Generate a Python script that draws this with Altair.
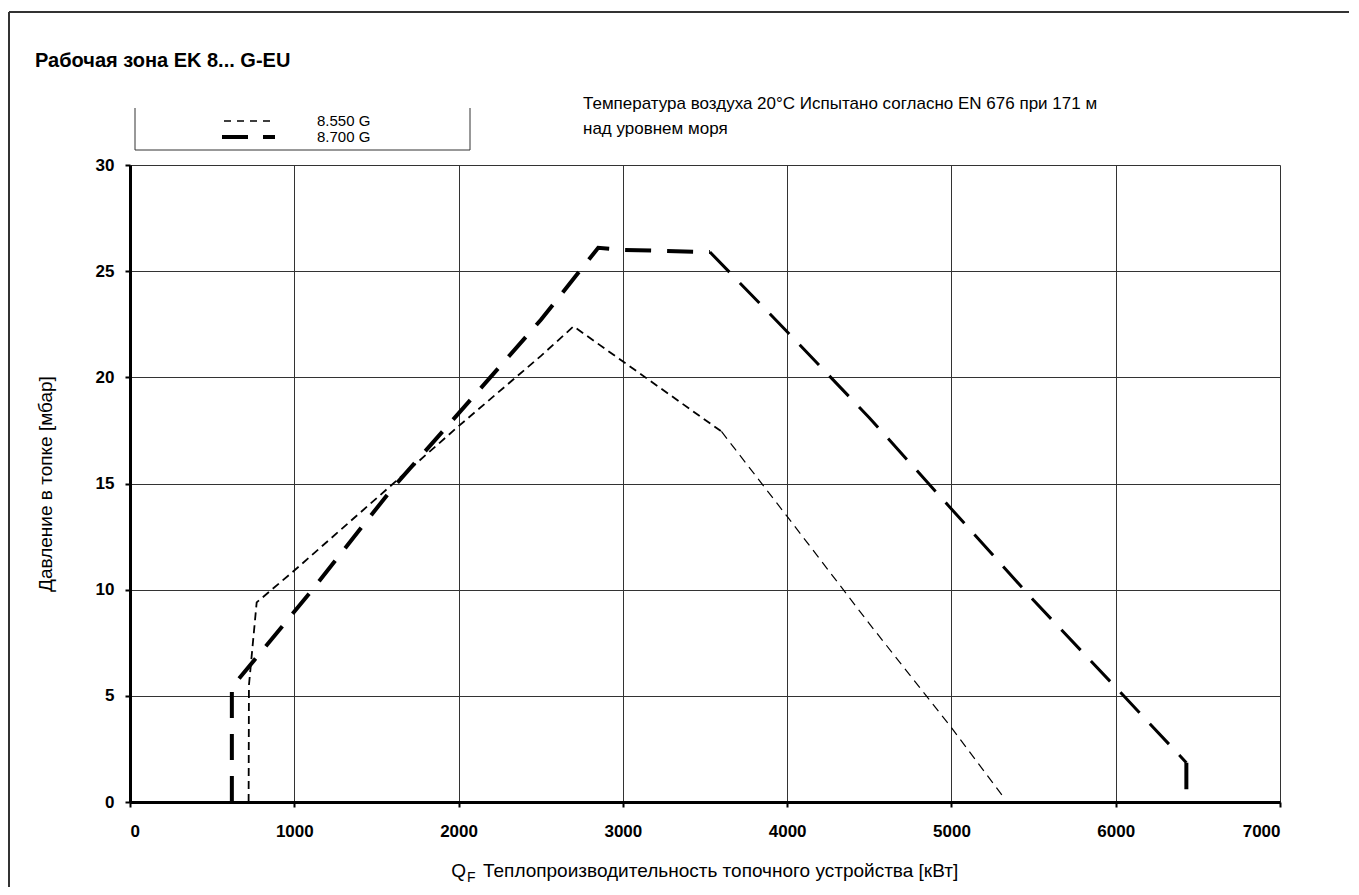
import altair as alt
import pandas as pd

FONT = "Liberation Sans"

# ---- data ----
x_ticks = [0, 1000, 2000, 3000, 4000, 5000, 6000, 7000]
y_ticks = [0, 5, 10, 15, 20, 25, 30]

s1_name = "8.550 G"
s1_x = [722, 724, 771, 1000, 1500, 2000, 2500, 2700, 3600, 4000, 4500, 5000, 5320]
s1_y = [0, 5.5, 9.4, 10.9, 14.3, 17.7, 21.0, 22.4, 17.45, 13.45, 8.4, 3.5, 0.2]

s2_name = "8.700 G"
s2_x = [620, 620, 1100, 1600, 2000, 2500, 2850, 3000, 3530, 4000, 4500, 5000, 5500, 6000, 6430, 6430]
s2_y = [0, 5.4, 9.9, 14.8, 18.3, 22.7, 26.1, 26.0, 25.9, 22.15, 18.1, 13.8, 9.5, 5.4, 1.85, 0.6]

title_text = "Рабочая зона EK 8... G-EU"
note_lines = ["Температура воздуха 20°C Испытано согласно EN 676 при 171 м",
              "над уровнем моря"]
x_title_q = "Q"
x_title_sub = "F"
x_title_rest = "Теплопроизводительность топочного устройства [кВт]"
y_title = "Давление в топке [мбар]"

W, H = 1150, 637


def frame(xs, ys):
    return pd.DataFrame({"x": xs, "y": ys, "i": list(range(len(xs)))})


d1 = frame(s1_x, s1_y)
d2 = frame(s2_x, s2_y)
k1 = s1_x.index(3600)
k2 = s2_x.index(3530)

X = alt.X("x:Q", scale=alt.Scale(domain=[0, 7000], nice=False, zero=False),
          axis=alt.Axis(values=x_ticks, format="d", grid=True, gridColor="#333",
                        gridWidth=1, domainColor="black", domainWidth=3,
                        tickColor="black", tickSize=5, tickWidth=2,
                        labelFont=FONT, labelFontSize=17, labelFontWeight="bold",
                        labelColor="black", labelPadding=16, title=None))
Y = alt.Y("y:Q", scale=alt.Scale(domain=[0, 30], nice=False),
          axis=alt.Axis(values=y_ticks, grid=True, gridColor="#333", gridWidth=1,
                        domainColor="black", domainWidth=3, tickColor="black",
                        tickSize=5, tickWidth=2, labelFont=FONT, labelFontSize=17,
                        labelFontWeight="bold", labelColor="black", labelPadding=11,
                        title=y_title, titleFont=FONT, titleFontSize=19,
                        titleFontWeight="normal", titleColor="black",
                        titleX=-85, titleY=H / 2, titleAngle=-90,
                        titleAlign="center", titleBaseline="middle"))
O = alt.Order("i:Q")


def line(df, width, dash=None):
    kw = dict(color="black", strokeWidth=width, clip=False, strokeCap="butt")
    if dash:
        kw["strokeDash"] = dash
    return alt.Chart(df).mark_line(**kw).encode(x=X, y=Y, order=O)


layers = [
    line(d1.iloc[:k1 + 1], 1.8, [8, 5]),
    line(d1.iloc[k1:], 1.2, [9, 6]),
    line(d2.iloc[:k2 + 1], 4, [26, 16]),
    line(d2.iloc[k2:len(s2_x) - 1], 3, [28, 15]),
    line(d2.iloc[len(s2_x) - 2:], 4),
]


def txt(s, x, y, size, weight="normal", align="left", angle=0, baseline="alphabetic"):
    return alt.Chart(pd.DataFrame({"t": [s]})).mark_text(
        font=FONT, fontSize=size, fontWeight=weight, align=align, baseline=baseline,
        angle=angle, color="black").encode(text="t:N", x=alt.value(x), y=alt.value(y))


def rule(x, y, x2=None, y2=None, width=1, color="#333", dash=None):
    kw = dict(color=color, strokeWidth=width, strokeCap="butt")
    if dash:
        kw["strokeDash"] = dash
    enc = dict(x=alt.value(x), y=alt.value(y))
    if x2 is not None:
        enc["x2"] = alt.value(x2)
    if y2 is not None:
        enc["y2"] = alt.value(y2)
    return alt.Chart(pd.DataFrame({"a": [0]})).mark_rule(**kw).encode(**enc)


# outer frame (top & left)
layers += [
    rule(-121, -153, x2=1219, width=2),
    rule(-121, -153, y2=722, width=2),
]

# title and note
layers += [
    txt(title_text, -95, -98, 20, weight="bold"),
    txt(note_lines[0], 453, -56, 17),
    txt(note_lines[1], 453, -31, 17),
]

# legend box (no top edge) + entries
layers += [
    rule(5, -57, y2=-15, width=1),
    rule(340, -57, y2=-15, width=1),
    rule(5, -15, x2=340, width=1),
    rule(94, -44, x2=145, width=1.5, color="black", dash=[7, 6]),
    rule(92, -28, x2=145, width=4, color="black", dash=[26, 15]),
    txt(s1_name, 187, -39, 15),
    txt(s2_name, 187, -23, 15),
]

# x-axis title with subscript
layers += [
    txt(x_title_q, 336, 712, 19, align="right"),
    txt(x_title_sub, 337, 717, 14),
    txt(x_title_rest, 353, 712, 19),
]

chart = alt.layer(*layers).properties(
    width=W, height=H,
    padding={"left": 122, "top": 157, "right": 69, "bottom": 85},
    autosize=alt.AutoSizeParams(type="none"),
).configure(font=FONT).configure_view(stroke=None)

chart.save("out.html", embed_options={"renderer": "svg", "actions": False})
